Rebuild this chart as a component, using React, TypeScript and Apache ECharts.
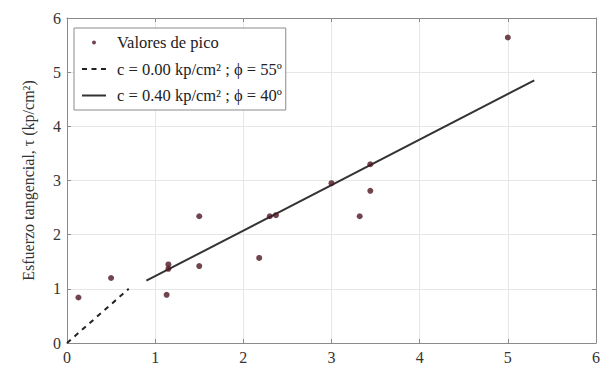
import React, { useEffect, useRef } from "react";
import * as echarts from "echarts";

const peakX = [0.13, 0.5, 1.13, 1.15, 1.15, 1.5, 1.5, 2.18, 2.3, 2.37, 3.0, 3.32, 3.44, 3.44, 5.0];
const peakY = [0.84, 1.2, 0.89, 1.37, 1.45, 2.34, 1.42, 1.57, 2.34, 2.36, 2.95, 2.34, 3.3, 2.81, 5.64];

const dashedX = [0, 0.7];
const dashedY = [0, 1.0];
const solidX = [0.9, 5.3];
const solidY = [1.15, 4.85];

const seriesNames = [
  "Valores de pico",
  "c = 0.00 kp/cm² ; ϕ = 55º",
  "c = 0.40 kp/cm² ; ϕ = 40º",
];

const xTicks = ["0", "1", "2", "3", "4", "5", "6"];
const yTicks = ["0", "1", "2", "3", "4", "5", "6"];

const FONT = "'Liberation Serif', 'Times New Roman', serif";
const DOT_COLOR = "#4e1622";

// legend icons: bounding box 30x14 kept via move-to corners
const ICON_DOT = "path://M0,0 M30,14 M10,7 A2,2 0 1,0 14,7 A2,2 0 1,0 10,7 Z";
const ICON_SOLID = "path://M0,0 M30,14 M0,6 H24 V8 H0 Z";
const ICON_DASHED =
  "path://M0,0 M30,14 M0,6 H5 V8 H0 Z M9.5,6 H14.5 V8 H9.5 Z M19,6 H24 V8 H19 Z";

export default function App() {
  const ref = useRef<HTMLDivElement>(null);
  useEffect(() => {
    if (!ref.current) return;
    const chart = echarts.init(ref.current, undefined, { renderer: "svg" });
    const axisColor = "#8a8a8a";
    const gridColor = "#e6e6e6";
    chart.setOption({
      animation: false,
      backgroundColor: "#fff",
      grid: { left: 67, right: 2, top: 18, bottom: 27 },
      legend: {
        orient: "vertical",
        left: 74,
        top: 28,
        padding: [6, 4, 6, 8],
        itemWidth: 30,
        itemHeight: 14,
        itemGap: 9.5,
        borderColor: "#8a8a8a",
        borderWidth: 1,
        borderRadius: 0,
        backgroundColor: "#fff",
        textStyle: { fontFamily: FONT, fontSize: 16.5, color: "#222" },
        data: [
          { name: seriesNames[0], icon: ICON_DOT, itemStyle: { color: DOT_COLOR } },
          { name: seriesNames[1], icon: ICON_DASHED, itemStyle: { color: "#222" } },
          { name: seriesNames[2], icon: ICON_SOLID, itemStyle: { color: "#333" } },
        ],
      },
      xAxis: [
        {
          type: "value",
          min: 0,
          max: 6,
          interval: 1,
          axisLine: { onZero: false, lineStyle: { color: axisColor, width: 1 } },
          axisTick: { inside: true, length: 4, lineStyle: { color: axisColor } },
          axisLabel: {
            fontFamily: FONT,
            fontSize: 16,
            color: "#333",
            margin: 6,
            formatter: (v: number) => xTicks[Math.round(v)] ?? "",
          },
          splitLine: { show: true, lineStyle: { color: gridColor } },
        },
        {
          type: "value",
          position: "top",
          min: 0,
          max: 6,
          interval: 1,
          axisLine: { show: true, onZero: false, lineStyle: { color: axisColor } },
          axisTick: { inside: true, length: 4, lineStyle: { color: axisColor } },
          axisLabel: { show: false },
          splitLine: { show: false },
        },
      ],
      yAxis: [
        {
          type: "value",
          min: 0,
          max: 6,
          interval: 1,
          name: "Esfuerzo tangencial, τ (kp/cm²)",
          nameLocation: "middle",
          nameGap: 31,
          nameTextStyle: { fontFamily: FONT, fontSize: 16, color: "#333" },
          axisLine: { show: true, onZero: false, lineStyle: { color: axisColor } },
          axisTick: { inside: true, length: 4, lineStyle: { color: axisColor } },
          axisLabel: {
            fontFamily: FONT,
            fontSize: 16,
            color: "#333",
            margin: 6,
            formatter: (v: number) => yTicks[Math.round(v)] ?? "",
          },
          splitLine: { show: true, lineStyle: { color: gridColor } },
        },
        {
          type: "value",
          position: "right",
          min: 0,
          max: 6,
          interval: 1,
          axisLine: { show: true, onZero: false, lineStyle: { color: axisColor } },
          axisTick: { inside: true, length: 4, lineStyle: { color: axisColor } },
          axisLabel: { show: false },
          splitLine: { show: false },
        },
      ],
      series: [
        {
          name: seriesNames[0],
          type: "scatter",
          symbol: "circle",
          symbolSize: 6,
          itemStyle: { color: DOT_COLOR },
          data: peakX.map((x, i) => [x, peakY[i]]),
          z: 5,
        },
        {
          name: seriesNames[1],
          type: "line",
          showSymbol: false,
          symbol: "none",
          lineStyle: { color: "#222", width: 2, type: [5, 5] },
          itemStyle: { color: "#222" },
          data: dashedX.map((x, i) => [x, dashedY[i]]),
        },
        {
          name: seriesNames[2],
          type: "line",
          showSymbol: false,
          symbol: "none",
          lineStyle: { color: "#333", width: 2 },
          itemStyle: { color: "#333" },
          data: solidX.map((x, i) => [x, solidY[i]]),
        },
      ],
    });
    return () => chart.dispose();
  }, []);
  return (
    <div
      ref={ref}
      style={{ position: "absolute", left: 0, top: 0, width: 603, height: 370 }}
    />
  );
}
